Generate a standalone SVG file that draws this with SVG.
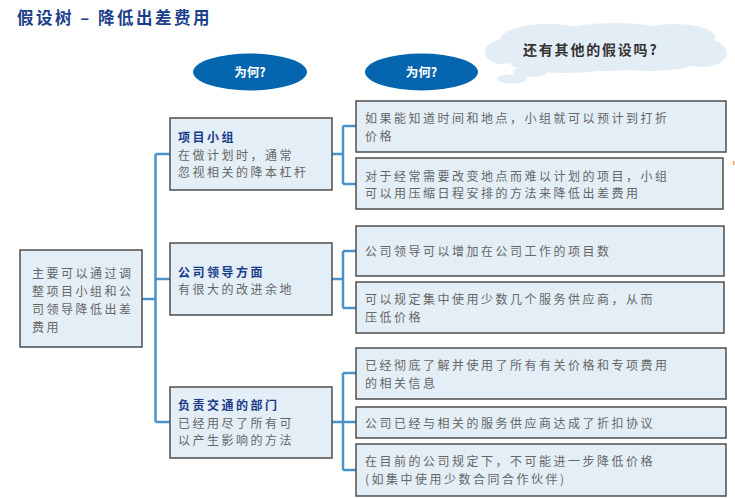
<svg xmlns="http://www.w3.org/2000/svg" width="735" height="498" viewBox="0 0 735 498">
<style>
.box{fill:#e4eef6;stroke:#4d4d4d;stroke-width:1.5}
.conn{fill:none;stroke:#4a92c9;stroke-width:2.5}
.t{font-family:"Noto Sans CJK SC","Liberation Sans",sans-serif;font-size:12px;fill:#666;letter-spacing:2.5px}
.h{font-family:"Noto Sans CJK SC","Liberation Sans",sans-serif;font-size:12px;fill:#1a3a8a;font-weight:bold;letter-spacing:2.5px}
.ell{fill:#0565ae}
.et{font-family:"Noto Sans CJK SC","Liberation Sans",sans-serif;font-size:12.5px;fill:#fff;font-weight:bold;text-anchor:middle}
.cloud{fill:#e3edf6}
</style>
<rect width="735" height="498" fill="#fff"/>
<text x="17" y="24" font-family="'Noto Sans CJK SC','Liberation Sans',sans-serif" font-size="16.5" font-weight="bold" fill="#1c3f8c" letter-spacing="2.5">假设树 – 降低出差费用</text>

<g id="why1"><ellipse class="ell" cx="250" cy="72" rx="57" ry="18.5"/><text class="et" x="250" y="77">为何?</text></g>
<g id="why2"><ellipse class="ell" cx="421.5" cy="72" rx="56.5" ry="18.5"/><text class="et" x="421.5" y="77">为何?</text></g>

<g id="cloud">
<g class="cloud">
<ellipse cx="605" cy="50" rx="112" ry="21"/>
<ellipse cx="548" cy="40" rx="48" ry="16"/>
<ellipse cx="615" cy="33" rx="55" ry="10"/>
<ellipse cx="675" cy="37" rx="40" ry="13"/>
<ellipse cx="702" cy="53" rx="25" ry="14"/>
<ellipse cx="502" cy="52" rx="17" ry="12"/>
<ellipse cx="565" cy="63" rx="55" ry="10"/>
<ellipse cx="650" cy="62" rx="45" ry="9"/>
<ellipse cx="530" cy="72" rx="17" ry="5"/>
<ellipse cx="512" cy="79" rx="15" ry="4.5"/>
</g>
<text x="523" y="55" font-family="'Noto Sans CJK SC','Liberation Sans',sans-serif" font-size="14" font-weight="bold" fill="#333" letter-spacing="1.8">还有其他的假设吗?</text>
</g>

<g id="connectors">
<path class="conn" d="M142 299H155.5M155.5 154V422M155.5 154H170M155.5 279H170M155.5 422H170"/>
<path class="conn" d="M332 154H343M343 126V184M343 126H356M343 184H356"/>
<path class="conn" d="M332 279H343M343 251V308M343 251H356M343 308H356"/>
<path class="conn" d="M332 422H356M343 373V470M343 373H356M343 470H356"/>
</g>

<g id="root"><rect class="box" x="20" y="250" width="122" height="97"/>
<text class="t" x="32" y="277.5">主要可以通过调</text>
<text class="t" x="32" y="295.5">整项目小组和公</text>
<text class="t" x="32" y="313.5">司领导降低出差</text>
<text class="t" x="32" y="331.5">费用</text></g>

<g id="team"><rect class="box" x="170" y="118" width="162" height="72"/>
<text class="h" x="178" y="142">项目小组</text>
<text class="t" x="178" y="159.5">在做计划时，通常</text>
<text class="t" x="178" y="177">忽视相关的降本杠杆</text></g>

<g id="leaders"><rect class="box" x="170" y="243" width="162" height="72"/>
<text class="h" x="178" y="276.5">公司领导方面</text>
<text class="t" x="178" y="294">有很大的改进余地</text></g>

<g id="dept"><rect class="box" x="170" y="387" width="162" height="71"/>
<text class="h" x="178" y="410">负责交通的部门</text>
<text class="t" x="178" y="427.5">已经用尽了所有可</text>
<text class="t" x="178" y="445">以产生影响的方法</text></g>

<g id="a"><rect class="box" x="356" y="101" width="370" height="51"/>
<text class="t" x="365" y="123">如果能知道时间和地点，小组就可以预计到打折</text>
<text class="t" x="365" y="141">价格</text></g>
<g id="b"><rect class="box" x="356" y="158" width="367" height="51"/>
<text class="t" x="365" y="180.5">对于经常需要改变地点而难以计划的项目，小组</text>
<text class="t" x="365" y="198">可以用压缩日程安排的方法来降低出差费用</text></g>
<g id="c"><rect class="box" x="356" y="226" width="368" height="50"/>
<text class="t" x="365" y="256">公司领导可以增加在公司工作的项目数</text></g>
<g id="d"><rect class="box" x="356" y="282" width="368" height="51"/>
<text class="t" x="365" y="304">可以规定集中使用少数几个服务供应商，从而</text>
<text class="t" x="365" y="322">压低价格</text></g>
<g id="e"><rect class="box" x="356" y="348" width="370" height="51"/>
<text class="t" x="365" y="370">已经彻底了解并使用了所有有关价格和专项费用</text>
<text class="t" x="365" y="388">的相关信息</text></g>
<g id="f"><rect class="box" x="356" y="407" width="370" height="31"/>
<text class="t" x="365" y="427.5">公司已经与相关的服务供应商达成了折扣协议</text></g>
<g id="g"><rect class="box" x="356" y="444" width="370" height="52"/>
<text class="t" x="365" y="466">在目前的公司规定下，不可能进一步降低价格</text>
<text class="t" x="365" y="484">(如集中使用少数合同合作伙伴)</text></g>
<rect x="733" y="161" width="1.5" height="4" fill="#f0a050"/>
</svg>
